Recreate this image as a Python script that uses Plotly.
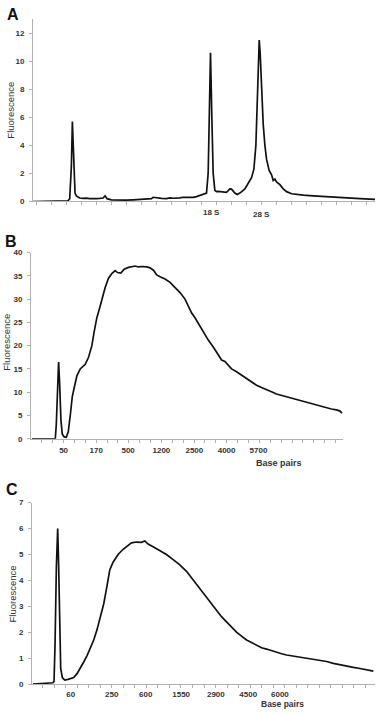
import plotly.graph_objects as go

W, H = 378, 715

# ---------------- Panel A (total RNA trace) ----------------
a_x = [10.0, 12.0, 13.0, 14.0, 16.0, 18.0, 20.0, 20.5, 21.0, 21.5, 21.8, 22.2, 22.6, 23.0, 24.0, 25.0, 26.0,
       27.0, 28.0, 29.0, 30.0, 31.0, 31.6, 32.2, 33.5, 35.0, 36.0, 38.0, 40.0, 42.0, 43.0, 45.5, 46.0, 47.0,
       48.5, 50.0, 51.0, 52.0, 53.0, 54.0, 55.0, 56.5, 57.0, 58.0, 59.0, 60.0, 61.0, 62.0, 62.5, 62.8,
       63.2, 63.6, 64.0, 64.5, 65.0, 65.5, 66.5, 67.0, 68.0, 69.0, 69.5, 70.5, 71.2, 72.0, 73.5, 74.5, 75.5,
       76.2, 76.8, 77.2, 77.6, 77.8, 78.1, 78.5, 79.0, 79.5, 80.0, 80.8, 81.5, 82.0, 82.5, 83.0, 84.0, 85.0,
       86.0, 87.5, 89.0, 91.0, 94.0, 97.0, 100.0, 104.0, 108.0, 112.5]
a_y = [0.0, 0.0, 0.05, 0.0, 0.0, 0.0, 0.02, 0.05, 0.2, 2.5, 5.7, 3.0, 0.6, 0.4, 0.25, 0.22, 0.24,
       0.2, 0.18, 0.2, 0.22, 0.25, 0.4, 0.2, 0.12, 0.1, 0.13, 0.1, 0.12, 0.15, 0.13, 0.2, 0.3, 0.25,
       0.22, 0.2, 0.25, 0.23, 0.22, 0.26, 0.3, 0.28, 0.32, 0.3, 0.35, 0.45, 0.5, 0.6, 2.0, 6.0,
       10.6, 6.0, 2.0, 0.8, 0.7, 0.72, 0.7, 0.72, 0.65, 0.9, 0.88, 0.6, 0.5, 0.6, 0.9, 1.3, 1.7,
       2.3, 4.0, 7.0, 10.5, 11.5, 10.5, 8.0, 5.5, 4.0, 3.0, 2.2, 1.9, 1.5, 1.6, 1.4, 1.2, 0.9,
       0.7, 0.55, 0.5, 0.45, 0.4, 0.35, 0.3, 0.25, 0.2, 0.15]
a_yticks = [0, 2, 4, 6, 8, 10, 12]
a_marker_pos = [63.6, 78.5]
a_marker_text = ["18 S", "28 S"]

# ---------------- Panel B ----------------
b_x = [9.5, 12.0, 14.0, 16.5, 16.8, 17.2, 17.5, 17.8, 18.2, 18.6, 19.2, 19.8, 20.4, 21.0, 21.6, 22.2, 23.0,
       24.0, 25.5, 26.5, 27.5, 28.2, 29.0, 29.8, 30.5, 31.5, 32.5, 33.5, 34.5, 35.2, 36.2, 37.2, 38.5, 39.5,
       40.5, 41.5, 42.5, 44.0, 45.0, 46.0, 47.0, 48.0, 49.5, 51.0, 52.5, 54.0, 55.5, 56.5, 57.5, 58.5, 59.5,
       60.5, 61.5, 62.5, 64.0, 65.5, 66.5, 67.5, 68.5, 69.5, 71.0, 72.5, 74.0, 75.5, 77.0, 78.5, 80.0, 81.5,
       83.0, 84.5, 86.0, 87.5, 89.0, 90.5, 92.0, 93.5, 95.0, 96.5, 98.0, 99.5, 101.0, 102.0, 102.7]
b_y = [0.0, 0.05, 0.0, 0.0, 3.0, 12.0, 16.5, 12.0, 4.0, 1.0, 0.4, 0.3, 1.5, 5.0, 9.0, 11.0, 13.5,
       15.0, 16.0, 17.5, 20.0, 23.0, 26.0, 28.0, 30.0, 32.5, 34.5, 35.5, 36.1, 35.7, 35.6, 36.4, 36.8, 36.9,
       37.1, 36.9, 37.0, 36.9, 36.7, 36.2, 35.2, 34.8, 34.3, 33.6, 32.5, 31.4, 30.0, 28.5, 27.0, 26.0, 24.8,
       23.5, 22.2, 21.2, 19.7, 18.0, 16.9, 16.6, 15.8, 15.0, 14.4, 13.7, 13.0, 12.2, 11.5, 11.0, 10.6, 10.1,
       9.6, 9.3, 9.0, 8.7, 8.4, 8.1, 7.8, 7.5, 7.2, 7.0, 6.7, 6.4, 6.2, 6.0, 5.5]
b_yticks = [0, 5, 10, 15, 20, 25, 30, 35, 40]
b_label_pos = [19.0, 28.8, 38.4, 48.4, 58.3, 68.0, 77.6]
b_label_text = ["50", "170", "500", "1200", "2500", "4000", "5700"]

# ---------------- Panel C ----------------
c_x = [10.0, 13.0, 14.0, 15.5, 16.0, 16.3, 16.6, 17.0, 17.4, 17.7, 18.0, 18.3, 18.8, 19.5, 20.5, 21.5, 22.2,
       23.2, 24.2, 25.2, 26.2, 27.2, 28.2, 29.2, 30.2, 31.2, 32.2, 33.0, 34.0, 35.5, 37.0, 38.5, 39.5, 41.0,
       42.5, 43.5, 44.5, 46.0, 48.0, 50.0, 52.0, 54.0, 56.0, 57.5, 59.0, 60.5, 62.0, 63.5, 65.0, 66.5, 68.0,
       69.5, 71.0, 72.5, 74.0, 75.5, 77.0, 78.5, 80.0, 81.5, 83.0, 84.5, 86.0, 88.0, 90.0, 92.0, 94.0, 96.0,
       98.0, 100.0, 102.0, 104.0, 106.0, 108.0, 110.0, 112.0]
c_y = [0.0, 0.02, 0.03, 0.05, 0.05, 0.1, 1.5, 4.5, 6.0, 4.5, 2.0, 0.6, 0.25, 0.15, 0.18, 0.22, 0.25,
       0.4, 0.6, 0.85, 1.1, 1.4, 1.7, 2.1, 2.6, 3.1, 3.8, 4.4, 4.7, 5.0, 5.2, 5.35, 5.45, 5.48,
       5.47, 5.52, 5.4, 5.3, 5.15, 5.0, 4.8, 4.6, 4.35, 4.1, 3.85, 3.6, 3.35, 3.1, 2.85, 2.6, 2.4,
       2.2, 2.0, 1.85, 1.7, 1.6, 1.5, 1.4, 1.35, 1.28, 1.22, 1.17, 1.12, 1.08, 1.02, 0.98, 0.95, 0.9,
       0.87, 0.8, 0.74, 0.7, 0.64, 0.6, 0.56, 0.5]
c_yticks = [0, 1, 2, 3, 4, 5, 6, 7]
c_label_pos = [21.3, 33.6, 43.8, 54.4, 64.8, 74.5, 84.0]
c_label_text = ["60", "250", "600", "1550", "2900", "4500", "6000"]

# ---------------- layout helpers ----------------
def fx(px):
    return px / W

def fy(py):
    return (H - py) / H

FONT = "Liberation Sans, Arial, sans-serif"
AXIS_GRAY = "#b0b0b0"
TEXT = "#333333"
LINE = "#111111"

fig = go.Figure()
fig.add_trace(go.Scatter(x=a_x, y=a_y, mode="lines", line=dict(color=LINE, width=1.7),
                         xaxis="x", yaxis="y", hoverinfo="skip"))
fig.add_trace(go.Scatter(x=b_x, y=b_y, mode="lines", line=dict(color=LINE, width=1.7),
                         xaxis="x2", yaxis="y2", hoverinfo="skip"))
fig.add_trace(go.Scatter(x=c_x, y=c_y, mode="lines", line=dict(color=LINE, width=1.7),
                         xaxis="x3", yaxis="y3", hoverinfo="skip"))

def xaxis(domain, rng, anchor, tick0, dtick, tickvals=None, ticktext=None, standoff=4):
    d = dict(domain=domain, range=rng, anchor=anchor, showgrid=False, zeroline=False,
             showline=True, linecolor=AXIS_GRAY, linewidth=1,
             ticks="outside", ticklen=0, tickcolor=AXIS_GRAY,
             minor=dict(ticks="outside", ticklen=3, tickcolor=AXIS_GRAY, tick0=tick0, dtick=dtick, showgrid=False),
             tickfont=dict(family=FONT, size=8, color=TEXT, weight="bold"),
             ticklabelstandoff=standoff)
    if tickvals is None:
        d.update(tickvals=[], showticklabels=False, tickmode="array")
    else:
        d.update(tickmode="array", tickvals=tickvals, ticktext=ticktext)
    return d

def yaxis(domain, rng, anchor, tickvals):
    return dict(domain=domain, range=rng, anchor=anchor, showgrid=False, zeroline=False,
                showline=True, linecolor=AXIS_GRAY, linewidth=1,
                ticks="outside", ticklen=3, tickcolor=AXIS_GRAY,
                tickmode="array", tickvals=tickvals,
                tickfont=dict(family=FONT, size=8, color=TEXT, weight="bold"),
                ticklabelstandoff=3)

fig.update_layout(
    xaxis=xaxis([fx(33), fx(375)], [10.0, 112.5], "y", 65.0, 4.5),
    yaxis=yaxis([fy(200), fy(15.3)], [0, 13], "x", a_yticks),
    xaxis2=xaxis([fx(31), fx(343)], [9.2, 103.0], "y2", 19.0, 3.27, b_label_pos, b_label_text),
    yaxis2=yaxis([fy(440.3), fy(251.7)], [0, 40], "x2", b_yticks),
    xaxis3=xaxis([fx(32), fx(375)], [9.7, 112.5], "y3", 44.0, 3.45, c_label_pos, c_label_text, standoff=2),
    yaxis3=yaxis([fy(688.7), fy(505)], [0, 7], "x3", c_yticks),
)

ann = []
for pos, txt, py in zip(a_marker_pos, a_marker_text, [211, 213]):
    ann.append(dict(x=pos, y=fy(py), xref="x", yref="paper", text=txt, showarrow=False,
                    font=dict(family=FONT, size=8, color=TEXT, weight="bold"),
                    xanchor="center", yanchor="middle"))

for letter, px, py in [("A", 13, 11), ("B", 11, 241), ("C", 12, 492)]:
    ann.append(dict(x=fx(px), y=fy(py), xref="paper", yref="paper", text=letter, showarrow=False,
                    font=dict(family=FONT, size=16, color="#111111", weight="bold"),
                    xanchor="center", yanchor="middle"))

for px, py in [(11, 108), (7, 343), (12, 598)]:
    ann.append(dict(x=fx(px), y=fy(py), xref="paper", yref="paper", text="Fluorescence",
                    showarrow=False, textangle=-90,
                    font=dict(family=FONT, size=9.5, color=TEXT),
                    xanchor="center", yanchor="middle"))

ann.append(dict(x=fx(279), y=fy(465), xref="paper", yref="paper", text="Base pairs", showarrow=False,
                font=dict(family=FONT, size=9, color=TEXT, weight="bold"), xanchor="center", yanchor="middle"))
ann.append(dict(x=fx(282), y=0, xref="paper", yref="paper", text="Base pairs", showarrow=False,
                font=dict(family=FONT, size=8.5, color=TEXT, weight="bold"), xanchor="center", yanchor="bottom",
                yshift=-1))

fig.update_layout(
    annotations=ann,
    width=W, height=H,
    margin=dict(l=0, r=0, t=0, b=0),
    paper_bgcolor="white", plot_bgcolor="white",
    showlegend=False,
)

fig.write_html("out.html", config={"displayModeBar": False})
